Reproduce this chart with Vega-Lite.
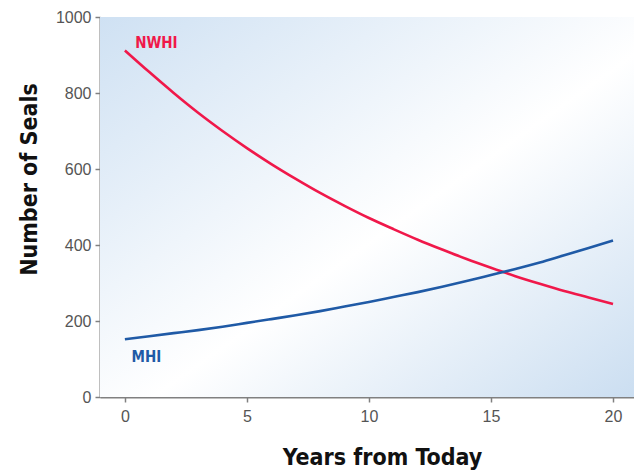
{
  "$schema": "https://vega.github.io/schema/vega-lite/v6.json",
  "width": 534,
  "height": 380,
  "autosize": "none",
  "padding": {"left": 100, "top": 17, "right": 0, "bottom": 73},
  "background": "white",
  "view": {"stroke": null},
  "datasets": {
    "seals": [
      {"year": 0, "n": 912, "region": "NWHI"},
      {"year": 1, "n": 855, "region": "NWHI"},
      {"year": 2, "n": 800, "region": "NWHI"},
      {"year": 3, "n": 748, "region": "NWHI"},
      {"year": 4, "n": 700, "region": "NWHI"},
      {"year": 5, "n": 655, "region": "NWHI"},
      {"year": 6, "n": 613, "region": "NWHI"},
      {"year": 7, "n": 574, "region": "NWHI"},
      {"year": 8, "n": 537, "region": "NWHI"},
      {"year": 9, "n": 503, "region": "NWHI"},
      {"year": 10, "n": 471, "region": "NWHI"},
      {"year": 11, "n": 442, "region": "NWHI"},
      {"year": 12, "n": 414, "region": "NWHI"},
      {"year": 13, "n": 388, "region": "NWHI"},
      {"year": 14, "n": 363, "region": "NWHI"},
      {"year": 15, "n": 340, "region": "NWHI"},
      {"year": 16, "n": 318, "region": "NWHI"},
      {"year": 17, "n": 298, "region": "NWHI"},
      {"year": 18, "n": 279, "region": "NWHI"},
      {"year": 19, "n": 262, "region": "NWHI"},
      {"year": 20, "n": 245, "region": "NWHI"},
      {"year": 0, "n": 152, "region": "MHI"},
      {"year": 1, "n": 160, "region": "MHI"},
      {"year": 2, "n": 168, "region": "MHI"},
      {"year": 3, "n": 176, "region": "MHI"},
      {"year": 4, "n": 185, "region": "MHI"},
      {"year": 5, "n": 195, "region": "MHI"},
      {"year": 6, "n": 205, "region": "MHI"},
      {"year": 7, "n": 215, "region": "MHI"},
      {"year": 8, "n": 226, "region": "MHI"},
      {"year": 9, "n": 238, "region": "MHI"},
      {"year": 10, "n": 250, "region": "MHI"},
      {"year": 11, "n": 263, "region": "MHI"},
      {"year": 12, "n": 276, "region": "MHI"},
      {"year": 13, "n": 290, "region": "MHI"},
      {"year": 14, "n": 305, "region": "MHI"},
      {"year": 15, "n": 321, "region": "MHI"},
      {"year": 16, "n": 337, "region": "MHI"},
      {"year": 17, "n": 354, "region": "MHI"},
      {"year": 18, "n": 373, "region": "MHI"},
      {"year": 19, "n": 392, "region": "MHI"},
      {"year": 20, "n": 412, "region": "MHI"}
    ],
    "labels": [
      {"year": 0.42, "n": 932, "region": "NWHI", "label": "NWHI"},
      {"year": 0.27, "n": 105, "region": "MHI", "label": "MHI"}
    ],
    "frame": [
      {"x0": -1.02, "x1": 20.86, "y0": 0, "y1": 1000}
    ]
  },
  "layer": [
    {
      "data": {"name": "frame"},
      "mark": {
        "type": "rect",
        "color": {
          "gradient": "linear",
          "x1": 0, "y1": 0, "x2": 1, "y2": 1,
          "stops": [
            {"offset": 0, "color": "#cfe1f3"},
            {"offset": 0.55, "color": "#ffffff"},
            {"offset": 1, "color": "#cbdef1"}
          ]
        }
      },
      "encoding": {
        "x": {"field": "x0", "type": "quantitative"},
        "x2": {"field": "x1"},
        "y": {"field": "y0", "type": "quantitative"},
        "y2": {"field": "y1"}
      }
    },
    {
      "mark": {"type": "rule", "color": "#808080", "strokeWidth": 2},
      "encoding": {"y": {"datum": 1000, "type": "quantitative"}}
    },
    {
      "data": {"name": "seals"},
      "mark": {"type": "line", "interpolate": "monotone", "strokeWidth": 2.6},
      "encoding": {
        "x": {
          "field": "year", "type": "quantitative",
          "scale": {"domain": [-1.02, 20.86], "nice": false, "zero": false},
          "axis": {
            "title": "Years from Today",
            "values": [0, 5, 10, 15, 20],
            "grid": false,
            "domainColor": "#808080", "domainWidth": 2,
            "tickColor": "#808080", "tickWidth": 1.5, "tickSize": 5,
            "labelColor": "#555555", "labelFontSize": 16, "labelFont": "Liberation Sans, Arial, sans-serif", "labelPadding": 6,
            "titleFont": "Liberation Sans Narrow, DejaVu Sans Condensed, Roboto, sans-serif", "titleFontSize": 23, "titleFontWeight": "bold",
            "titleColor": "#111111", "titlePadding": 22, "titleX": 282
          }
        },
        "y": {
          "field": "n", "type": "quantitative",
          "scale": {"domain": [0, 1000], "nice": false},
          "axis": {
            "title": "Number of Seals",
            "values": [0, 200, 400, 600, 800, 1000],
            "format": "d",
            "grid": false,
            "domainColor": "#808080", "domainWidth": 2,
            "tickColor": "#808080", "tickWidth": 1.5, "tickSize": 5,
            "labelColor": "#555555", "labelFontSize": 16, "labelFont": "Liberation Sans, Arial, sans-serif", "labelPadding": 4,
            "titleFont": "Liberation Sans Narrow, DejaVu Sans Condensed, Roboto, sans-serif", "titleFontSize": 23, "titleFontWeight": "bold",
            "titleColor": "#111111", "titlePadding": 14, "titleY": 162
          }
        },
        "color": {
          "field": "region", "type": "nominal",
          "scale": {"domain": ["NWHI", "MHI"], "range": ["#f0184a", "#1f5aa6"]},
          "legend": null
        }
      }
    },
    {
      "data": {"name": "labels"},
      "mark": {"type": "text", "align": "left", "baseline": "middle", "font": "Liberation Sans Narrow, DejaVu Sans Condensed, Roboto, sans-serif", "fontWeight": "bold", "fontSize": 15},
      "encoding": {
        "x": {"field": "year", "type": "quantitative"},
        "y": {"field": "n", "type": "quantitative"},
        "text": {"field": "label"},
        "color": {"field": "region", "type": "nominal", "legend": null}
      }
    }
  ]
}
